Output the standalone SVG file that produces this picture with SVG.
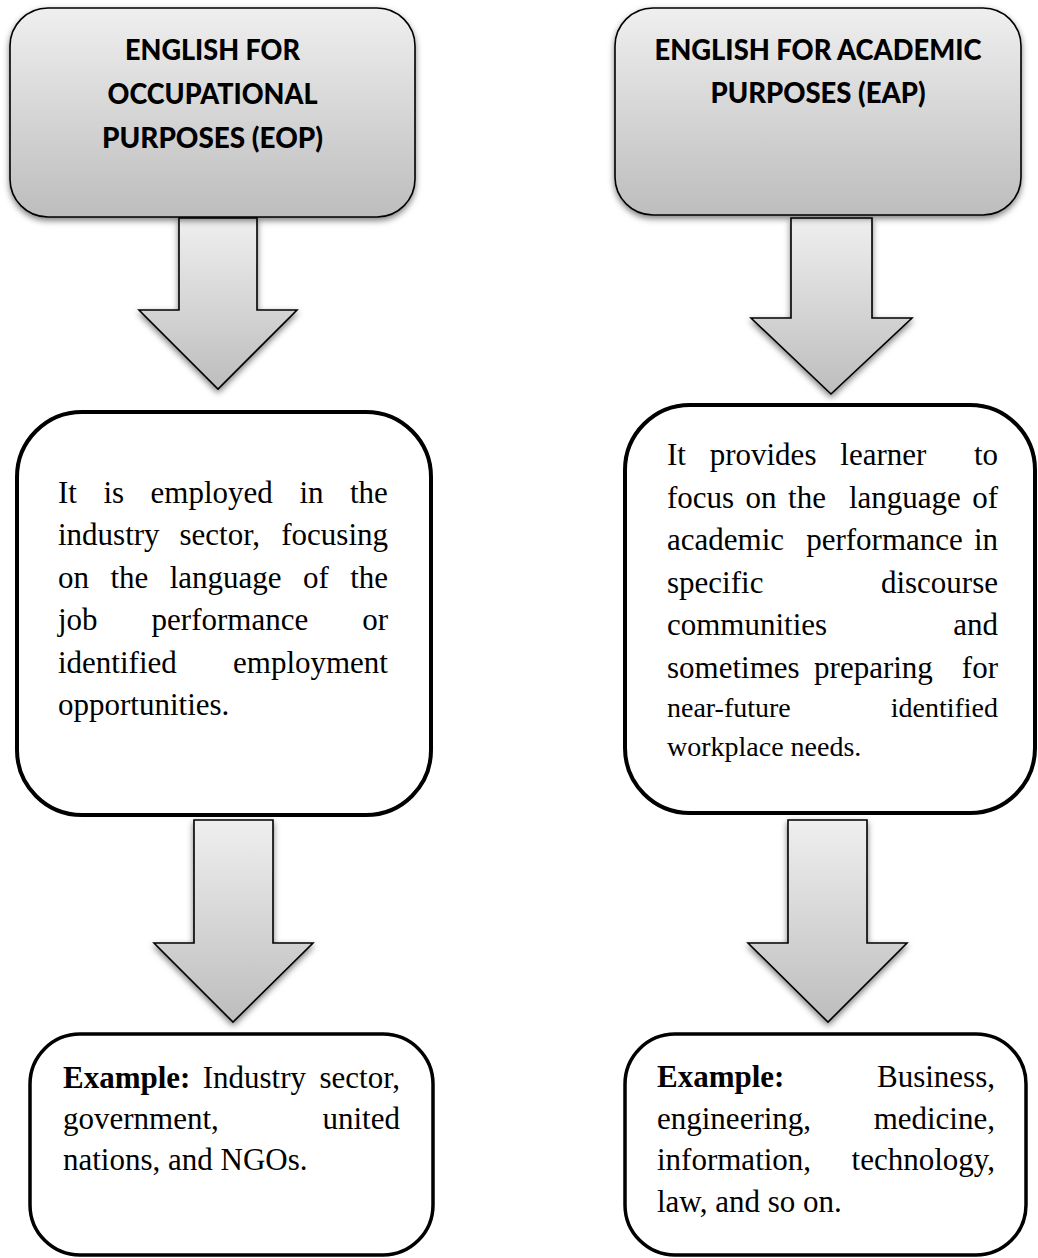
<svg xmlns="http://www.w3.org/2000/svg" width="1038" height="1258" viewBox="0 0 1038 1258">
<defs>
<linearGradient id="gray" x1="0" y1="0" x2="0" y2="1">
<stop offset="0" stop-color="#efefef"/>
<stop offset="1" stop-color="#bdbdbd"/>
</linearGradient>
<filter id="shadow" x="-10%" y="-10%" width="120%" height="130%">
<feDropShadow dx="0" dy="3" stdDeviation="3" flood-color="#000" flood-opacity="0.5"/>
</filter>
<style>
.head{fill:url(#gray);stroke:#000;stroke-width:1.6;filter:url(#shadow)}
.arrow{fill:url(#gray);stroke:#000;stroke-width:1.6;stroke-linejoin:miter;filter:url(#shadow)}
.box{fill:#fff;stroke:#000;stroke-width:4}
.box2{fill:#fff;stroke:#000;stroke-width:3.5}
.title{font-family:Lato,"Liberation Sans",sans-serif;font-weight:900;font-size:28px;fill:#000;text-anchor:middle}
.body{font-family:"Liberation Serif","Times New Roman",serif;font-size:31px;fill:#000}
.small{font-size:28px}
.end{text-anchor:end}
.b{font-weight:bold}
</style>
</defs>
<rect width="1038" height="1258" fill="#fff"/>

<g id="connectors">
<polygon class="arrow" points="179,218 257,218 257,310 297,310 218,389 139,310 179,310"/>
<polygon class="arrow" points="791,218 872,218 872,318 912,318 831,394 751,318 791,318"/>
<polygon class="arrow" points="194,820 273,820 273,943 313,943 233,1022 154,943 194,943"/>
<polygon class="arrow" points="788,820 867,820 867,943 907,943 828,1022 748,943 788,943"/>
</g>

<g id="eop">
<rect class="head" x="10" y="8" width="405" height="209" rx="38" ry="38"/>
<text class="title" x="212.5" y="60" textLength="175" lengthAdjust="spacingAndGlyphs">ENGLISH FOR</text>
<text class="title" x="212.5" y="104" textLength="210" lengthAdjust="spacingAndGlyphs">OCCUPATIONAL</text>
<text class="title" x="212.5" y="148" textLength="221" lengthAdjust="spacingAndGlyphs">PURPOSES (EOP)</text>
</g>

<g id="eap">
<rect class="head" x="615" y="8" width="406" height="207" rx="38" ry="38"/>
<text class="title" x="818" y="60" textLength="327" lengthAdjust="spacingAndGlyphs">ENGLISH FOR ACADEMIC</text>
<text class="title" x="818" y="103" textLength="215" lengthAdjust="spacingAndGlyphs">PURPOSES (EAP)</text>
</g>

<g id="eop-desc">
<rect class="box" x="17" y="412" width="414" height="403" rx="65" ry="65"/>
<text class="body" y="503"><tspan x="58">It</tspan><tspan x="103.4">is</tspan><tspan x="150.6">employed</tspan><tspan x="299.4">in</tspan><tspan x="350">the</tspan></text>
<text class="body" y="545.4"><tspan x="58">industry</tspan><tspan x="179.5">sector,</tspan></text>
<text class="body end" x="388" y="545.4">focusing</text>
<text class="body" y="587.8"><tspan x="58">on</tspan><tspan x="110.4">the</tspan><tspan x="169.7">language</tspan><tspan x="303">of</tspan></text>
<text class="body end" x="388" y="587.8">the</text>
<text class="body" y="630.2"><tspan x="58">job</tspan><tspan x="151.6">performance</tspan></text>
<text class="body end" x="388" y="630.2">or</text>
<text class="body" x="58" y="672.6">identified</text>
<text class="body end" x="388" y="672.6">employment</text>
<text class="body" x="58" y="715">opportunities.</text>
</g>

<g id="eap-desc">
<rect class="box" x="625" y="405" width="410" height="408" rx="65" ry="65"/>
<text class="body" y="465"><tspan x="667">It</tspan><tspan x="709.7">provides</tspan><tspan x="840.3">learner</tspan></text>
<text class="body end" x="998" y="465">to</text>
<text class="body" y="507.6"><tspan x="667">focus</tspan><tspan x="745.6">on</tspan><tspan x="788.1">the</tspan><tspan x="848.9">language</tspan></text>
<text class="body end" x="998" y="507.6">of</text>
<text class="body" y="550.2"><tspan x="667">academic</tspan><tspan x="806.2">performance</tspan></text>
<text class="body end" x="998" y="550.2">in</text>
<text class="body" x="667" y="592.8">specific</text>
<text class="body end" x="998" y="592.8">discourse</text>
<text class="body" x="667" y="635.4">communities</text>
<text class="body end" x="998" y="635.4">and</text>
<text class="body" y="678"><tspan x="667">sometimes</tspan><tspan x="814.1">preparing</tspan></text>
<text class="body end" x="998" y="678">for</text>
<text class="body small" x="667" y="717">near-future</text>
<text class="body small end" x="998" y="717">identified</text>
<text class="body small" x="667" y="756">workplace needs.</text>
</g>

<g id="eop-example">
<rect class="box2" x="30" y="1034" width="403" height="221" rx="50" ry="50"/>
<text class="body" y="1088"><tspan x="63" class="b">Example:</tspan><tspan x="202.7">Industry</tspan></text>
<text class="body end" x="400" y="1088">sector,</text>
<text class="body" x="63" y="1129">government,</text>
<text class="body end" x="400" y="1129">united</text>
<text class="body" x="63" y="1170">nations, and NGOs.</text>
</g>

<g id="eap-example">
<rect class="box2" x="625" y="1034" width="401" height="221" rx="50" ry="50"/>
<text class="body b" x="657" y="1087">Example:</text>
<text class="body end" x="995" y="1087">Business,</text>
<text class="body" x="657" y="1129">engineering,</text>
<text class="body end" x="995" y="1129">medicine,</text>
<text class="body" x="657" y="1170">information,</text>
<text class="body end" x="995" y="1170">technology,</text>
<text class="body" x="657" y="1212">law, and so on.</text>
</g>
</svg>
